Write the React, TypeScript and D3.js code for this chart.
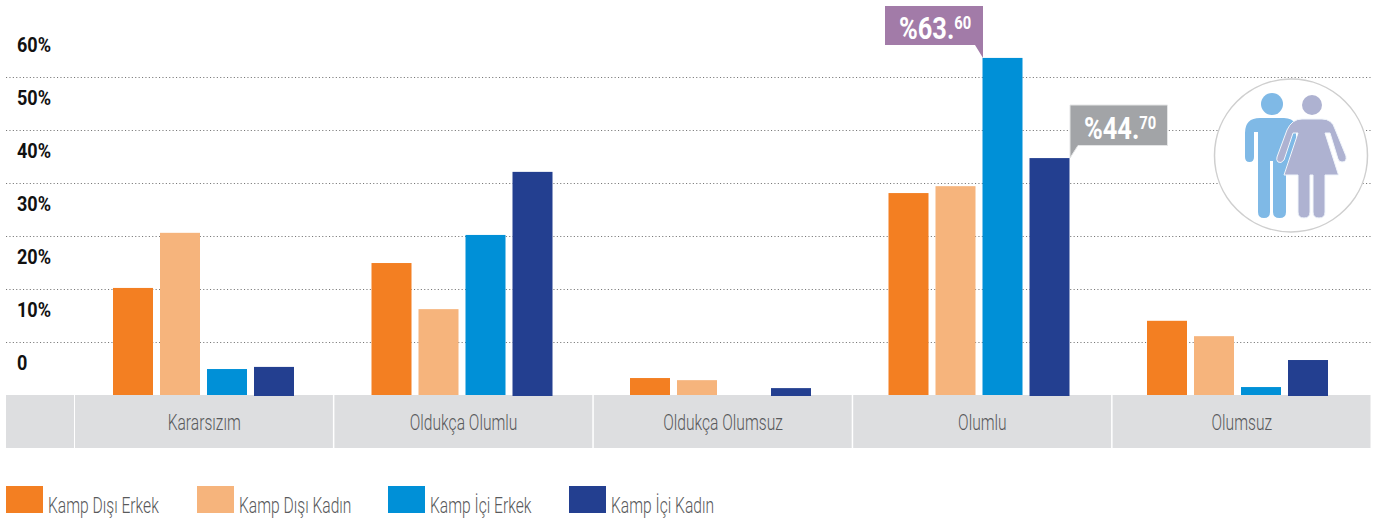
import React from "react";
import * as d3 from "d3";

const categories = ["Kararsızım", "Oldukça Olumlu", "Oldukça Olumsuz", "Olumlu", "Olumsuz"];
const seriesNames = ["Kamp Dışı Erkek", "Kamp Dışı Kadın", "Kamp İçi Erkek", "Kamp İçi Kadın"];
const seriesColors = ["#F37F22", "#F6B47C", "#0090D7", "#233F90"];
const kampDisiErkek = [20.2, 24.9, 3.2, 38.1, 14.0];
const kampDisiKadin = [30.6, 16.2, 2.8, 39.4, 11.1];
const kampIciErkek = [4.9, 30.2, 0, 63.6, 1.5];
const kampIciKadin = [5.3, 42.1, 1.3, 44.7, 6.6];
const seriesValues = [kampDisiErkek, kampDisiKadin, kampIciErkek, kampIciKadin];
const yTicks = [0, 10, 20, 30, 40, 50, 60];
const legendX = [6, 197, 388, 569];

const FONT = "Roboto, 'Liberation Sans', sans-serif";

const y = d3.scaleLinear().domain([0, 60]).range([395, 77]);
const cellX = d3.scaleBand<string>().domain(categories).range([74.5, 1371.5]);
const barGroupX = d3.scaleBand<string>().domain(categories).range([74.5, 74.5 + 258.5 * 5]);
const barX = d3.scaleBand<number>().domain([0, 1, 2, 3]).range([38.5, 38.5 + 181]).paddingInner(7 / 47);

function Narrow({ x, y: ty, sx, anchor, children, ...rest }: any) {
  return (
    <text transform={`translate(${x},${ty}) scale(${sx},1)`} textAnchor={anchor} fontFamily={FONT} {...rest}>
      {children}
    </text>
  );
}

export default function App() {
  const w = 1381, h = 522;
  return (
    <svg width={w} height={h} style={{ position: "absolute", left: 0, top: 0, background: "#fff" }}>
      {yTicks.slice(1).map((t) => (
        <line key={t} x1={6} x2={1372} y1={y(t) + 0.5} y2={y(t) + 0.5} stroke="#777" strokeWidth={1.1} strokeDasharray="1.1 2.3" />
      ))}
      {yTicks.map((t) => (
        <Narrow key={t} x={17} y={y(t) - 25.5} sx={0.86} fontWeight={700} fontSize={21} fill="#111">
          {t === 0 ? "0" : `${t}%`}
        </Narrow>
      ))}
      <rect x={6} y={395} width={68} height={53} fill="#DDDEE0" />
      {categories.map((c) => (
        <g key={c}>
          <rect x={cellX(c)! + 0.5} y={395} width={cellX.bandwidth() - 1.5} height={53} fill="#DDDEE0" />
          <Narrow x={cellX(c)! + cellX.bandwidth() / 2} y={429.5} sx={0.71} anchor="middle" fontWeight={300} fontSize={22} fill="#58595B">
            {c}
          </Narrow>
        </g>
      ))}
      {seriesValues.map((vals, s) =>
        vals.map((v, i) =>
          v > 0 ? (
            <rect key={`${s}-${i}`} x={barGroupX(categories[i])! + barX(s)!} y={y(v)} width={barX.bandwidth()} height={y(0) - y(v) + (s === 3 ? 1 : 0)} fill={seriesColors[s]} />
          ) : null
        )
      )}
      <path d="M885 6H983V58L975 45H885Z" fill="#A27BA8" />
      <Narrow x={899} y={38.5} sx={0.82} fontWeight={700} fontSize={31} fill="#fff">%63.<tspan fontSize={18} dy={-10}>60</tspan></Narrow>
      <path d="M1070 105H1167.5V145.5H1078L1070 158Z" fill="#A2A4A7" stroke="#E4E5E6" strokeWidth={1} />
      <Narrow x={1084} y={138.5} sx={0.82} fontWeight={700} fontSize={31} fill="#fff">%44.<tspan fontSize={18} dy={-10}>70</tspan></Narrow>
      <circle cx={1291} cy={155.5} r={76.5} fill="#fff" stroke="#CFCFCF" strokeWidth={1.5} />
      <circle cx={1272} cy={104} r={11} fill="#7FB9E6" />
      <path d="M1245 133Q1245 118 1260 118H1284Q1292 118 1296 124V170H1286V212Q1286 218 1279.5 218Q1273 218 1273 212V161H1270V212Q1270 218 1264 218Q1258 218 1258 212V132H1254V157Q1254 162 1249.5 162Q1245 162 1245 157Z" fill="#7FB9E6" />
      <circle cx={1312} cy={105} r={10} fill="#AEB2D1" />
      <path d="M1302 119H1322Q1332 119 1335 129L1346 156Q1347 162 1342 162Q1339 162 1338 159L1330 133H1325L1338.5 175H1325V212Q1325 218 1319 218Q1313 218 1313 212V175H1310V212Q1310 218 1304 218Q1298 218 1298 212V175H1284L1298 133H1293L1284 160Q1281 164 1278 162Q1276 160 1277 157L1287 130Q1292 119 1302 119Z" fill="#AEB2D1" stroke="#F0F5FB" strokeWidth={1} />
      {seriesNames.map((n, i) => (
        <g key={n}>
          <rect x={legendX[i]} y={486} width={37} height={27} fill={seriesColors[i]} />
          <Narrow x={legendX[i] + 42} y={512.5} sx={0.71} fontWeight={300} fontSize={22} fill="#58595B">{n}</Narrow>
        </g>
      ))}
    </svg>
  );
}
